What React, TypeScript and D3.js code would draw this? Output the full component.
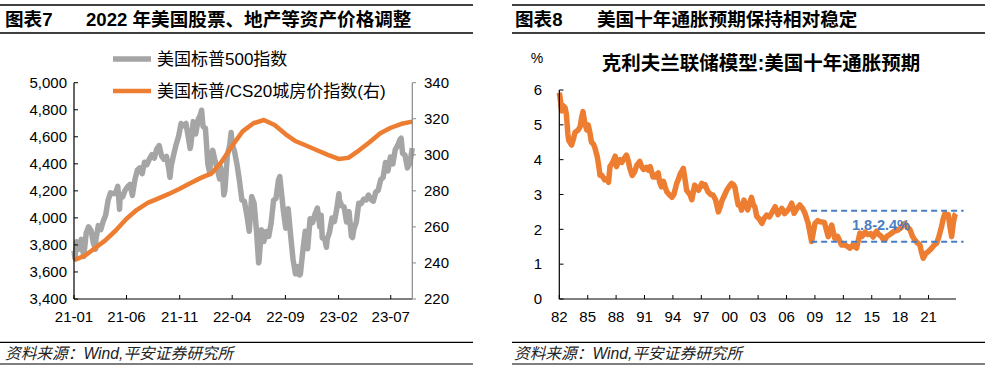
import React from 'react';
import * as d3 from 'd3';

const W = 985;
const H = 375;
const NUM_FONT = '"Liberation Sans", Arial, "Noto Sans CJK SC", sans-serif';
const CJK_FONT = '"Liberation Sans", "Noto Sans CJK SC", sans-serif';

// ---------- Left chart data ----------
const leftTitleTag = '图表7';
const leftTitle = '2022 年美国股票、地产等资产价格调整';
const leftLegend = ['美国标普500指数', '美国标普/CS20城房价指数(右)'];
const leftXTicks = ['21-01', '21-06', '21-11', '22-04', '22-09', '23-02', '23-07'];
const leftYTicks = [3400, 3600, 3800, 4000, 4200, 4400, 4600, 4800, 5000];
const rightYTicks = [220, 240, 260, 280, 300, 320, 340];

const sp500: [string, number][] = [
  ['2021-01-01', 3756], ['2021-01-04', 3700], ['2021-01-08', 3824], ['2021-01-15', 3768], ['2021-01-22', 3841], ['2021-01-29', 3714],
  ['2021-02-05', 3886], ['2021-02-12', 3934], ['2021-02-19', 3906], ['2021-02-26', 3811], ['2021-03-04', 3768],
  ['2021-03-05', 3842], ['2021-03-12', 3943], ['2021-03-19', 3913], ['2021-03-26', 3975],
  ['2021-04-02', 4020], ['2021-04-09', 4129], ['2021-04-16', 4185], ['2021-04-23', 4180], ['2021-04-30', 4181],
  ['2021-05-07', 4233], ['2021-05-12', 4063], ['2021-05-14', 4174], ['2021-05-21', 4156], ['2021-05-28', 4204],
  ['2021-06-04', 4230], ['2021-06-11', 4247], ['2021-06-18', 4166], ['2021-06-25', 4281],
  ['2021-07-02', 4352], ['2021-07-09', 4370], ['2021-07-16', 4327], ['2021-07-23', 4412], ['2021-07-30', 4395],
  ['2021-08-06', 4437], ['2021-08-13', 4468], ['2021-08-20', 4442], ['2021-08-27', 4509],
  ['2021-09-03', 4535], ['2021-09-10', 4459], ['2021-09-17', 4433], ['2021-09-24', 4455],
  ['2021-10-01', 4357], ['2021-10-04', 4300], ['2021-10-08', 4391], ['2021-10-15', 4471], ['2021-10-22', 4545], ['2021-10-29', 4605],
  ['2021-11-05', 4698], ['2021-11-12', 4683], ['2021-11-19', 4698], ['2021-11-26', 4595], ['2021-12-01', 4513],
  ['2021-12-03', 4538], ['2021-12-10', 4712], ['2021-12-17', 4620], ['2021-12-24', 4726], ['2021-12-31', 4766],
  ['2022-01-03', 4796], ['2022-01-07', 4677], ['2022-01-14', 4662], ['2022-01-21', 4398], ['2022-01-27', 4327], ['2022-01-28', 4432],
  ['2022-02-04', 4500], ['2022-02-11', 4419], ['2022-02-18', 4349], ['2022-02-24', 4288], ['2022-02-25', 4385],
  ['2022-03-04', 4329], ['2022-03-08', 4170], ['2022-03-11', 4204], ['2022-03-18', 4463], ['2022-03-25', 4543], ['2022-03-29', 4632],
  ['2022-04-01', 4546], ['2022-04-08', 4488], ['2022-04-15', 4393], ['2022-04-22', 4272], ['2022-04-29', 4132],
  ['2022-05-06', 4123], ['2022-05-13', 4024], ['2022-05-20', 3901], ['2022-05-27', 4158],
  ['2022-06-03', 4109], ['2022-06-10', 3901], ['2022-06-16', 3667], ['2022-06-17', 3675], ['2022-06-24', 3912],
  ['2022-07-01', 3825], ['2022-07-08', 3899], ['2022-07-15', 3863], ['2022-07-22', 3962], ['2022-07-29', 4130],
  ['2022-08-05', 4145], ['2022-08-12', 4280], ['2022-08-16', 4305], ['2022-08-19', 4228], ['2022-08-26', 4058],
  ['2022-09-02', 3924], ['2022-09-09', 4067], ['2022-09-16', 3873], ['2022-09-23', 3693], ['2022-09-30', 3586],
  ['2022-10-07', 3640], ['2022-10-12', 3577], ['2022-10-14', 3583], ['2022-10-21', 3752], ['2022-10-28', 3901],
  ['2022-11-04', 3771], ['2022-11-11', 3993], ['2022-11-18', 3965], ['2022-11-25', 4026],
  ['2022-12-02', 4072], ['2022-12-09', 3934], ['2022-12-13', 4019], ['2022-12-16', 3852], ['2022-12-23', 3845], ['2022-12-28', 3783], ['2022-12-30', 3840],
  ['2023-01-06', 3895], ['2023-01-13', 3999], ['2023-01-20', 3973], ['2023-01-27', 4071], ['2023-02-02', 4179],
  ['2023-02-03', 4136], ['2023-02-10', 4090], ['2023-02-17', 4079], ['2023-02-24', 3970],
  ['2023-03-03', 4046], ['2023-03-10', 3862], ['2023-03-13', 3855], ['2023-03-17', 3917], ['2023-03-24', 3971], ['2023-03-31', 4109],
  ['2023-04-07', 4105], ['2023-04-14', 4138], ['2023-04-21', 4133], ['2023-04-28', 4169],
  ['2023-05-05', 4136], ['2023-05-12', 4124], ['2023-05-19', 4192], ['2023-05-26', 4205],
  ['2023-06-02', 4282], ['2023-06-09', 4299], ['2023-06-16', 4410], ['2023-06-23', 4348], ['2023-06-30', 4450],
  ['2023-07-07', 4399], ['2023-07-14', 4505], ['2023-07-21', 4536], ['2023-07-28', 4582], ['2023-07-31', 4589],
  ['2023-08-04', 4478], ['2023-08-11', 4464], ['2023-08-18', 4370], ['2023-08-25', 4406], ['2023-09-01', 4516],
];

// Case-Shiller 20-city, monthly from 2021-01
const cs20Start = '2021-01-01';
const cs20Values = [
  241.6, 244, 248, 252.5, 258, 264.5, 269.5, 273.3, 275.8, 278.3, 281.2, 284.2,
  287.2, 289.7, 296, 305, 313, 317.5, 319.3, 316.5, 311.5, 307.5, 305, 302.5,
  300, 297.7, 298.3, 302.5, 307, 312, 315, 317.2, 318.4,
];

// ---------- Right chart data ----------
const rightTitleTag = '图表8';
const rightTitle = '美国十年通胀预期保持相对稳定';
const rightChartTitle = '克利夫兰联储模型:美国十年通胀预期';
const infXTicks = ['82', '85', '88', '91', '94', '97', '00', '03', '06', '09', '12', '15', '18', '21'];
const infYTicks = [0, 1, 2, 3, 4, 5, 6];
const bandLabel = '1.8-2.4%';
const bandValues = [1.645, 2.535];
const bandYears = [2008.6, 2024.7];

const inflation: [number, number][] = [
  [1982.0, 5.92], [1982.1, 5.75], [1982.25, 5.4], [1982.4, 5.55], [1982.6, 5.5], [1982.75, 5.3], [1982.9, 4.75],
  [1983.0, 4.55], [1983.3, 4.42], [1983.5, 4.6], [1983.65, 4.78], [1984.0, 4.85], [1984.2, 4.95], [1984.35, 5.2],
  [1984.5, 5.38], [1984.7, 5.05], [1984.9, 4.85], [1985.05, 5.0], [1985.25, 4.75], [1985.4, 4.5], [1985.6, 4.45],
  [1985.75, 4.35], [1986.0, 4.1], [1986.15, 3.85], [1986.3, 3.55], [1986.5, 3.55], [1986.65, 3.48], [1986.8, 3.42],
  [1987.0, 3.45], [1987.2, 3.35], [1987.35, 3.8], [1987.6, 3.9], [1987.9, 4.1], [1988.05, 3.8], [1988.25, 3.95],
  [1988.4, 4.0], [1988.6, 3.92], [1988.75, 4.0], [1989.1, 4.13], [1989.3, 3.95], [1989.45, 3.75], [1989.7, 3.55],
  [1989.95, 3.65], [1990.2, 3.85], [1990.5, 3.95], [1990.7, 3.8], [1990.9, 3.72], [1991.2, 3.78], [1991.4, 3.7],
  [1991.6, 3.8], [1991.9, 3.5], [1992.1, 3.5], [1992.3, 3.58], [1992.45, 3.62], [1992.6, 3.35], [1992.8, 3.22],
  [1993.0, 3.38], [1993.2, 3.2], [1993.35, 3.08], [1993.6, 3.0], [1993.9, 2.92], [1994.1, 3.0], [1994.4, 3.32],
  [1994.6, 3.45], [1994.75, 3.58], [1995.0, 3.7], [1995.1, 3.75], [1995.3, 3.4], [1995.45, 3.12], [1995.65, 3.05],
  [1995.8, 3.0], [1996.0, 2.85], [1996.3, 3.27], [1996.5, 3.2], [1996.7, 3.12], [1997.05, 3.32], [1997.2, 3.25],
  [1997.4, 3.28], [1997.7, 3.08], [1998.0, 3.0], [1998.25, 2.98], [1998.5, 2.85], [1998.8, 2.5], [1999.0, 2.65],
  [1999.15, 2.8], [1999.4, 2.95], [1999.7, 3.13], [2000.0, 3.25], [2000.2, 3.32], [2000.4, 3.28], [2000.55, 3.2],
  [2000.75, 2.9], [2000.9, 2.7], [2001.1, 2.7], [2001.25, 2.55], [2001.5, 2.84], [2001.7, 2.7], [2001.9, 2.56],
  [2002.1, 2.75], [2002.3, 2.92], [2002.5, 2.7], [2002.65, 2.65], [2002.85, 2.38], [2003.1, 2.3], [2003.4, 2.17],
  [2003.6, 2.3], [2003.9, 2.41], [2004.2, 2.36], [2004.5, 2.5], [2004.8, 2.65], [2005.1, 2.42], [2005.5, 2.6],
  [2005.8, 2.45], [2006.0, 2.51], [2006.3, 2.6], [2006.55, 2.75], [2006.8, 2.46], [2007.1, 2.6], [2007.4, 2.7],
  [2007.7, 2.6], [2007.93, 2.47], [2008.29, 2.17], [2008.65, 1.65], [2009.0, 2.17], [2009.3, 2.25], [2009.53, 2.22],
  [2010.0, 2.2], [2010.4, 1.79], [2010.77, 2.12], [2011.1, 1.74], [2011.4, 1.8], [2011.82, 1.55], [2012.2, 1.55],
  [2012.7, 1.46], [2013.0, 1.55], [2013.4, 1.46], [2013.75, 1.89], [2014.0, 1.8], [2014.3, 1.92], [2014.6, 1.85],
  [2014.9, 1.88], [2015.15, 1.78], [2015.35, 1.88], [2015.5, 1.95], [2015.75, 1.85], [2016.0, 1.8], [2016.2, 1.72],
  [2016.4, 1.7], [2016.57, 1.79], [2016.9, 1.85], [2017.1, 1.89], [2017.4, 1.95], [2017.8, 1.98], [2018.1, 2.05],
  [2018.5, 2.17], [2018.8, 2.05], [2019.03, 2.0], [2019.3, 1.8], [2019.56, 1.69], [2019.8, 1.62], [2020.09, 1.55],
  [2020.25, 1.35], [2020.44, 1.17], [2020.7, 1.3], [2020.97, 1.36], [2021.3, 1.45], [2021.6, 1.55], [2021.85, 1.6],
  [2022.1, 1.8], [2022.38, 2.08], [2022.55, 2.3], [2022.73, 2.45], [2022.9, 2.38], [2023.08, 2.42], [2023.25, 2.1],
  [2023.44, 1.79], [2023.6, 2.15], [2023.78, 2.41], [2023.9, 2.45],
];

const sourceText = '资料来源：Wind,平安证券研究所';

const ORANGE = '#ED7D31';
const GREY = '#A5A5A5';
const BLUE = '#4A7EC2';

export default function App() {
  const parse = d3.timeParse('%Y-%m-%d');
  const parseTick = d3.timeParse('%y-%m');

  // Left chart scales
  const xL = d3.scaleTime().domain([new Date(2021, 0, 1), new Date(2023, 8, 1)]).range([74, 412.3]);
  const yL = d3.scaleLinear().domain([3400, 5000]).range([299, 82.7]);
  const yLR = d3.scaleLinear().domain([220, 340]).range([299, 82.7]);

  const spData = sp500.map(([d, v]) => ({ date: parse(d) as Date, v }));
  const csBase = parse(cs20Start) as Date;
  const csData = cs20Values.map((v, i) => ({ date: d3.timeMonth.offset(csBase, i), v }));

  const spPath = d3.line<{ date: Date; v: number }>().x(d => xL(d.date)).y(d => yL(d.v))(spData) || '';
  const csPath = d3.line<{ date: Date; v: number }>().x(d => xL(d.date)).y(d => yLR(d.v))(csData) || '';

  // Right chart scales
  const xR = d3.scaleLinear().domain([1982, 2023.9]).range([559.3, 956]);
  const yR = d3.scaleLinear().domain([0, 6]).range([299, 90]);
  const infPath = d3.line<[number, number]>().x(d => xR(d[0])).y(d => yR(d[1]))(inflation) || '';

  const fmt = d3.format(',');
  const tickYear = (s: string) => (+s < 50 ? 2000 + +s : 1900 + +s);

  return (
    <svg width={W} height={H} style={{ position: 'absolute', left: 0, top: 0, background: '#fff' }}>
      <rect x={0} y={0} width={W} height={H} fill="#fff" />
      {/* ===== Left panel frame ===== */}
      <line x1={0} x2={473} y1={5} y2={5} stroke="#000" strokeWidth={1.3} />
      <line x1={0} x2={473} y1={33} y2={33} stroke="#000" strokeWidth={1.3} />
      <text x={5} y={26} fontFamily={CJK_FONT} fontWeight="bold" fontSize={18.6} fill="#000">{leftTitleTag}</text>
      <text x={86} y={26} fontFamily={CJK_FONT} fontWeight="bold" fontSize={18.6} fill="#000">{leftTitle}</text>
      <line x1={0} x2={473} y1={342.3} y2={342.3} stroke="#000" strokeWidth={1.2} />
      <line x1={0} x2={473} y1={364} y2={364} stroke="#000" strokeWidth={1.2} />
      <text x={5} y={359} fontFamily={CJK_FONT} fontStyle="italic" fontSize={15.7} fill="#222">{sourceText}</text>

      {/* ===== Left chart ===== */}
      <path d={spPath} fill="none" stroke={GREY} strokeWidth={5.5} strokeLinejoin="round" />
      <path d={csPath} fill="none" stroke={ORANGE} strokeWidth={4.5} strokeLinejoin="round" />
      {/* axes */}
      <line x1={74} x2={74} y1={82.7} y2={299} stroke="#000" strokeWidth={1.2} />
      <line x1={74} x2={412.3} y1={299} y2={299} stroke="#000" strokeWidth={1.2} />
      <line x1={412.3} x2={412.3} y1={82.7} y2={299} stroke="#888" strokeWidth={1.2} />
      {leftYTicks.map(t => (
        <g key={'ly' + t}>
          <line x1={74} x2={78} y1={yL(t)} y2={yL(t)} stroke="#000" strokeWidth={1} />
          <text x={67} y={yL(t)} dy="0.35em" textAnchor="end" fontFamily={NUM_FONT} fontSize={15} fill="#000">{fmt(t)}</text>
        </g>
      ))}
      {rightYTicks.map(t => (
        <g key={'ry' + t}>
          <line x1={412.3} x2={416} y1={yLR(t)} y2={yLR(t)} stroke="#888" strokeWidth={1} />
          <text x={424} y={yLR(t)} dy="0.35em" textAnchor="start" fontFamily={NUM_FONT} fontSize={15} fill="#000">{t}</text>
        </g>
      ))}
      {leftXTicks.map(t => {
        const x = xL(parseTick(t) as Date);
        return (
          <g key={'lx' + t}>
            <line x1={x} x2={x} y1={299} y2={295} stroke="#000" strokeWidth={1} />
            <text x={x} y={322} textAnchor="middle" fontFamily={NUM_FONT} fontSize={15} fill="#000">{t}</text>
          </g>
        );
      })}
      {/* legend */}
      <line x1={113} x2={151} y1={59} y2={59} stroke={GREY} strokeWidth={5.5} />
      <text x={157} y={59} dy="0.35em" fontFamily={CJK_FONT} fontSize={17} fill="#000">{leftLegend[0]}</text>
      <line x1={113} x2={151} y1={91} y2={91} stroke={ORANGE} strokeWidth={4.5} />
      <text x={157} y={91} dy="0.35em" fontFamily={CJK_FONT} fontSize={17} fill="#000">{leftLegend[1]}</text>

      {/* ===== Right panel frame ===== */}
      <line x1={512} x2={985} y1={5} y2={5} stroke="#000" strokeWidth={1.3} />
      <line x1={512} x2={985} y1={33} y2={33} stroke="#000" strokeWidth={1.3} />
      <text x={515} y={26} fontFamily={CJK_FONT} fontWeight="bold" fontSize={18.6} fill="#000">{rightTitleTag}</text>
      <text x={597} y={26} fontFamily={CJK_FONT} fontWeight="bold" fontSize={18.6} fill="#000">{rightTitle}</text>
      <line x1={512} x2={985} y1={342.3} y2={342.3} stroke="#000" strokeWidth={1.2} />
      <line x1={512} x2={985} y1={364} y2={364} stroke="#000" strokeWidth={1.2} />
      <text x={514} y={359} fontFamily={CJK_FONT} fontStyle="italic" fontSize={15.7} fill="#222">{sourceText}</text>

      {/* ===== Right chart ===== */}
      <text x={537} y={58} dy="0.35em" textAnchor="middle" fontFamily={NUM_FONT} fontSize={14} fill="#000">%</text>
      <text x={761} y={63} dy="0.35em" textAnchor="middle" fontFamily={CJK_FONT} fontWeight="bold" fontSize={19.5} fill="#000">{rightChartTitle}</text>
      <path d={infPath} fill="none" stroke={ORANGE} strokeWidth={5.5} strokeLinejoin="round" />
      {bandValues.map(v => (
        <line key={'band' + v} x1={xR(bandYears[0])} x2={xR(bandYears[1])} y1={yR(v)} y2={yR(v)}
          stroke={BLUE} strokeWidth={2} strokeDasharray="6,4" />
      ))}
      <text x={881} y={225} dy="0.35em" textAnchor="middle" fontFamily={NUM_FONT} fontWeight="bold" fontSize={14.5} fill={BLUE}>{bandLabel}</text>
      <line x1={559.3} x2={559.3} y1={90} y2={299} stroke="#000" strokeWidth={1.2} />
      <line x1={559.3} x2={956} y1={299} y2={299} stroke="#000" strokeWidth={1.2} />
      {infYTicks.map(t => (
        <g key={'iy' + t}>
          <line x1={559.3} x2={563.5} y1={yR(t)} y2={yR(t)} stroke="#000" strokeWidth={1} />
          <text x={542} y={yR(t)} dy="0.35em" textAnchor="end" fontFamily={NUM_FONT} fontSize={15} fill="#000">{t}</text>
        </g>
      ))}
      {infXTicks.map(t => {
        const x = xR(tickYear(t));
        return (
          <g key={'ix' + t}>
            <line x1={x} x2={x} y1={299} y2={295} stroke="#000" strokeWidth={1} />
            <text x={x} y={322} textAnchor="middle" fontFamily={NUM_FONT} fontSize={15} fill="#000">{t}</text>
          </g>
        );
      })}
    </svg>
  );
}
